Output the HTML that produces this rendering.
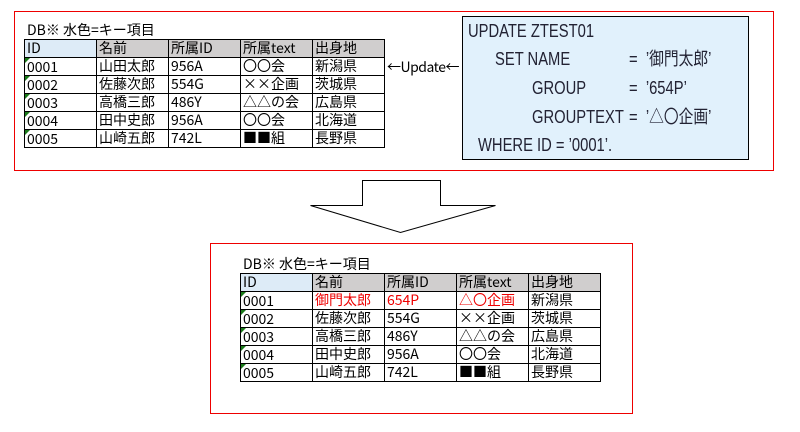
<!DOCTYPE html>
<html><head><meta charset="utf-8"><style>
body{margin:0;width:800px;height:432px;background:#fff;position:relative;overflow:hidden;font-family:"Liberation Sans","Noto Sans CJK JP",sans-serif;}
.abs{position:absolute}
table{position:absolute;border-collapse:collapse;font-size:14px;line-height:17px;font-family:"Noto Sans CJK JP",sans-serif;}
td{border:1px solid #000;padding:0 0 0 2px;height:17px;width:69px;white-space:nowrap;overflow:hidden;position:relative;}
td span{position:relative;top:1px}
tr.h td{background:#d0cece}
tr.h td.k{background:#ddebf7}
td.g::before{content:"";position:absolute;left:0;top:0;border-top:5px solid #1a7a1a;border-right:5px solid transparent}
.r{color:#e00}
.t{font-size:14px;font-family:"Noto Sans CJK JP",sans-serif;line-height:17px}
.sql{position:absolute;left:462px;top:16px;width:285px;height:142px;background:#e1f1fc;border:1px solid #000;font-family:"Liberation Sans","Noto Sans CJK JP",sans-serif;font-size:18px;line-height:21px;color:#223;}
.sql div{position:absolute;white-space:pre;transform:scaleX(.82);transform-origin:0 0}
</style></head><body>
<div class="abs" style="left:14px;top:11px;width:758px;height:158px;border:1px solid #e00"></div>
<div class="abs t" style="left:27px;top:22px">DB※ 水色=キー項目</div>
<table style="left:24px;top:39px">
<tr class="h"><td class="k">ID</td><td>名前</td><td>所属ID</td><td>所属text</td><td>出身地</td></tr>
<tr><td class="g"><span>0001</span></td><td>山田太郎</td><td>956A</td><td>〇〇会</td><td>新潟県</td></tr>
<tr><td class="g"><span>0002</span></td><td>佐藤次郎</td><td>554G</td><td>××企画</td><td>茨城県</td></tr>
<tr><td class="g"><span>0003</span></td><td>高橋三郎</td><td>486Y</td><td>△△の会</td><td>広島県</td></tr>
<tr><td class="g"><span>0004</span></td><td>田中史郎</td><td>956A</td><td>〇〇会</td><td>北海道</td></tr>
<tr><td class="g"><span>0005</span></td><td>山崎五郎</td><td>742L</td><td>■■組</td><td>長野県</td></tr>
</table>
<div class="abs" style="left:387px;top:59px;font-size:14px;letter-spacing:-0.5px;font-family:'Noto Sans CJK JP',sans-serif;line-height:17px">←Update←</div>
<div class="sql">
<div style="left:5px;top:4px">UPDATE ZTEST01</div>
<div style="left:32px;top:32px">SET NAME</div>
<div style="left:166px;top:32px">=  ’御門太郎’</div>
<div style="left:69px;top:61px">GROUP</div>
<div style="left:166px;top:61px">=  ’654P’</div>
<div style="left:69px;top:90px">GROUPTEXT</div>
<div style="left:166px;top:90px">=  ’△〇企画’</div>
<div style="left:15px;top:118px">WHERE ID = ’0001’.</div>
</div>
<svg class="abs" style="left:0;top:0" width="800" height="432"><polygon points="362.5,180.5 440.5,180.5 440.5,205.5 495.5,205.5 400.5,232.5 310.5,205.5 362.5,205.5" fill="#fff" stroke="#000"/></svg>
<div class="abs" style="left:210px;top:243px;width:421px;height:169px;border:1px solid #e00"></div>
<div class="abs t" style="left:243px;top:256px">DB※ 水色=キー項目</div>
<table style="left:240px;top:273px">
<tr class="h"><td class="k">ID</td><td>名前</td><td>所属ID</td><td>所属text</td><td>出身地</td></tr>
<tr><td class="g"><span>0001</span></td><td class="r">御門太郎</td><td class="r">654P</td><td class="r">△〇企画</td><td>新潟県</td></tr>
<tr><td class="g"><span>0002</span></td><td>佐藤次郎</td><td>554G</td><td>××企画</td><td>茨城県</td></tr>
<tr><td class="g"><span>0003</span></td><td>高橋三郎</td><td>486Y</td><td>△△の会</td><td>広島県</td></tr>
<tr><td class="g"><span>0004</span></td><td>田中史郎</td><td>956A</td><td>〇〇会</td><td>北海道</td></tr>
<tr><td class="g"><span>0005</span></td><td>山崎五郎</td><td>742L</td><td>■■組</td><td>長野県</td></tr>
</table>
</body></html>
